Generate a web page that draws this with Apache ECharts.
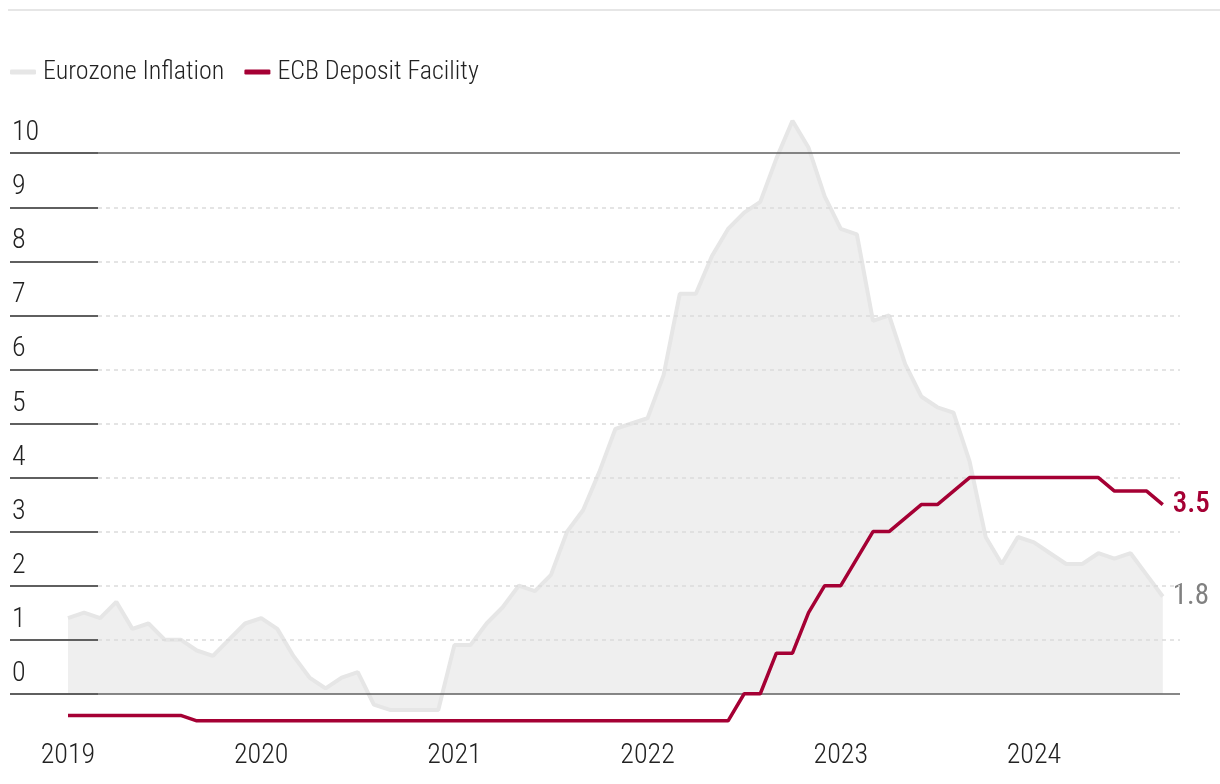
<!DOCTYPE html>
<html>
<head>
<meta charset="utf-8">
<script src="https://cdn.jsdelivr.net/npm/echarts@6/dist/echarts.min.js"></script>
<style>
html,body{margin:0;padding:0;background:#fff;}
#chart{width:1220px;height:784px;}
</style>
</head>
<body>
<div id="chart"></div>
<script>
// Monthly data, Jan 2019 – Sep 2024
const startYear = 2019;
const yearLabels = ['2019', '2020', '2021', '2022', '2023', '2024'];
const yTicks = [0, 1, 2, 3, 4, 5, 6, 7, 8, 9, 10];
const inflation = [
  1.4, 1.5, 1.4, 1.7, 1.2, 1.3, 1.0, 1.0, 0.8, 0.7, 1.0, 1.3,
  1.4, 1.2, 0.7, 0.3, 0.1, 0.3, 0.4, -0.2, -0.3, -0.3, -0.3, -0.3,
  0.9, 0.9, 1.3, 1.6, 2.0, 1.9, 2.2, 3.0, 3.4, 4.1, 4.9, 5.0,
  5.1, 5.9, 7.4, 7.4, 8.1, 8.6, 8.9, 9.1, 9.9, 10.6, 10.1, 9.2,
  8.6, 8.5, 6.9, 7.0, 6.1, 5.5, 5.3, 5.2, 4.3, 2.9, 2.4, 2.9,
  2.8, 2.6, 2.4, 2.4, 2.6, 2.5, 2.6, 2.2, 1.8
];
const depositRate = [
  -0.4, -0.4, -0.4, -0.4, -0.4, -0.4, -0.4, -0.4, -0.5, -0.5, -0.5, -0.5,
  -0.5, -0.5, -0.5, -0.5, -0.5, -0.5, -0.5, -0.5, -0.5, -0.5, -0.5, -0.5,
  -0.5, -0.5, -0.5, -0.5, -0.5, -0.5, -0.5, -0.5, -0.5, -0.5, -0.5, -0.5,
  -0.5, -0.5, -0.5, -0.5, -0.5, -0.5, 0.0, 0.0, 0.75, 0.75, 1.5, 2.0,
  2.0, 2.5, 3.0, 3.0, 3.25, 3.5, 3.5, 3.75, 4.0, 4.0, 4.0, 4.0,
  4.0, 4.0, 4.0, 4.0, 4.0, 3.75, 3.75, 3.75, 3.5
];
const seriesNames = ['Eurozone Inflation', 'ECB Deposit Facility'];

const FONT = '"Roboto Condensed", "DejaVu Sans Condensed", "Liberation Sans", sans-serif';
const RED = '#a50034';

const yearTickValues = yearLabels.map((y, i) => i * 12);
const inflData = inflation.map((v, i) => [i, v]);
const rateData = depositRate.map((v, i) => [i, v]);

const gridMarks = yTicks.map(v => {
  const edge = (v === 0 || v === 10);
  return {
    yAxis: v,
    lineStyle: edge
      ? { color: '#5f5f5f', width: 1.5, type: 'solid' }
      : { color: '#dcdcdc', width: 1.5, type: [4, 4] }
  };
});

const chart = echarts.init(document.getElementById('chart'), null, { renderer: 'canvas' });
chart.setOption({
  animation: false,
  backgroundColor: '#fff',
  textStyle: { fontFamily: FONT },
  graphic: [{
    type: 'rect', left: 8, top: 9,
    shape: { width: 1212, height: 2 },
    style: { fill: '#e6e6e6' }, silent: true
  }],
  legend: {
    left: 10, top: 59, padding: 0,
    itemWidth: 26, itemHeight: 5, itemGap: 20,
    icon: 'roundRect',
    textStyle: { fontFamily: FONT, fontSize: 26, fontWeight: 300, color: '#222', padding: [0, 0, 0, 2] },
    data: [
      { name: seriesNames[0], itemStyle: { color: '#e6e6e6' } },
      { name: seriesNames[1], itemStyle: { color: RED } }
    ]
  },
  grid: { left: 10, right: 40, top: 110, height: 627, containLabel: false },
  xAxis: {
    type: 'value',
    min: -3.602, max: 69.07,
    axisLine: { show: false, onZero: false },
    axisTick: { show: false },
    splitLine: { show: false },
    axisLabel: {
      customValues: yearTickValues,
      margin: 5,
      fontFamily: FONT, fontSize: 28, fontWeight: 300, color: '#222',
      formatter: v => String(startYear + Math.round(v / 12))
    }
  },
  yAxis: {
    type: 'value',
    min: -0.8, max: 10.8,
    z: 10,
    axisLine: { show: false, onZero: false },
    splitLine: { show: false },
    axisTick: {
      show: true, inside: true, length: 88,
      customValues: yTicks,
      lineStyle: { color: '#5f5f5f', width: 2 }
    },
    axisLabel: {
      customValues: yTicks,
      inside: true, margin: 2,
      verticalAlign: 'bottom',
      padding: [0, 0, 6, 0],
      fontFamily: FONT, fontSize: 28, fontWeight: 300, color: '#222'
    }
  },
  series: [
    {
      name: seriesNames[0],
      type: 'line',
      data: inflData,
      showSymbol: false,
      symbol: 'none',
      itemStyle: { color: '#e6e6e6' },
      lineStyle: { color: '#e6e6e6', width: 4 },
      areaStyle: { color: '#efefef', opacity: 1 },
      endLabel: {
        show: true, distance: 10,
        fontFamily: FONT, fontSize: 29, fontWeight: 400, color: '#808080',
        formatter: p => p.value[1].toFixed(1)
      },
      markLine: {
        silent: true, symbol: 'none', label: { show: false },
        animation: false, z: 2,
        data: gridMarks
      },
      z: 1
    },
    {
      name: seriesNames[1],
      type: 'line',
      data: rateData,
      showSymbol: false,
      symbol: 'none',
      itemStyle: { color: RED },
      lineStyle: { color: RED, width: 3.5 },
      endLabel: {
        show: true, distance: 10,
        fontFamily: FONT, fontSize: 29, color: RED, fontWeight: 500,
        formatter: p => p.value[1].toFixed(1)
      },
      z: 3
    }
  ]
});
</script>
</body>
</html>
